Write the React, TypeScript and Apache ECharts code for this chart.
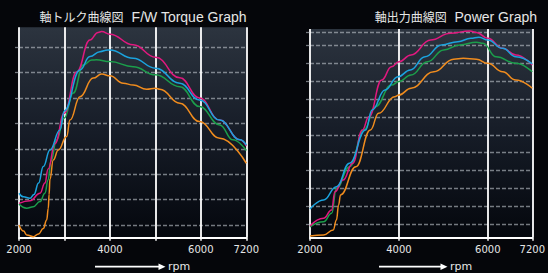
import React, { useEffect, useRef } from "react";
import * as echarts from "echarts";

// ---- axis ticks / labels ----
const LEFT_X_TICKS = [2000, 3000, 4000, 5000, 6000, 7200];
const LEFT_X_LABELS = [2000, 4000, 6000, 7200];
const RIGHT_X_TICKS = [2000, 4000, 6000, 7200];
const RIGHT_X_LABELS = [2000, 4000, 6000, 7200];
const LEFT_Y_LINES = [5, 15, 25, 35, 45, 55, 65, 75];
const LEFT_Y_MAX = 82.8;
const RIGHT_Y_LINES = [7.5, 17.5, 27.5, 37.5, 47.5, 57.5, 67.5, 77.5, 87.5, 97.5, 107.5, 115];
const RIGHT_Y_MAX = 116.6;

const LEFT_TITLE_JP = "軸トルク曲線図";
const LEFT_TITLE_EN = "F/W Torque Graph";
const RIGHT_TITLE_JP = "軸出力曲線図";
const RIGHT_TITLE_EN = "Power Graph";

// ---- torque curves [rpm, value] ----
const torqueMagenta = [
  [2000, 13.5], [2242, 14.5], [2462, 17.5], [2570, 21.5], [2640, 27], [2791, 37], [2996, 49],
  [3268, 65.2], [3560, 77.8], [3740, 80.8], [3818, 81.1], [4000, 80.1], [4512, 75.9], [5004, 71.0],
  [5538, 62.9], [5971, 55.0], [6499, 46.3], [7032, 38.5], [7200, 36.1],
];
const torqueCyan = [
  [2000, 17.5], [2095, 16.1], [2242, 15.5], [2330, 17], [2430, 21.5], [2534, 28], [2681, 34.5],
  [2901, 42.4], [2996, 49.9], [3341, 66.0], [3560, 71.3], [3780, 73.2], [3950, 73.9], [4000, 73.9],
  [4512, 70.6], [5004, 66.7], [5538, 60.8], [5971, 54.2], [6499, 46.3], [7032, 38.5], [7200, 36.5],
];
const torqueGreen = [
  [2000, 13.2], [2169, 11.6], [2314, 12.2], [2462, 14.2], [2570, 17.5], [2640, 22.7], [2700, 30],
  [2829, 38.5], [2996, 47.1], [3193, 56.9], [3413, 68.0], [3600, 69.9], [3700, 70.0], [4000, 69.3],
  [4512, 67.3], [5004, 64.1], [5538, 59.4], [5971, 51.6], [6499, 44.4], [6845, 38.5], [7200, 34.3],
];
const torqueOrange = [
  [2000, 5.0], [2100, 2.6], [2169, 1.1], [2314, 0.4], [2430, 1.5], [2534, 3.6], [2609, 7.0],
  [2644, 11.5], [2662, 17], [2680, 23], [2754, 30.6], [2864, 34.5], [3048, 39.8], [3121, 46.3],
  [3341, 55.5], [3633, 62.8], [3818, 64.4], [4000, 63.7], [4292, 60.8], [4512, 60.1], [4807, 58.4],
  [5004, 58.8], [5099, 58.4], [5538, 52.9], [5971, 45.7], [6499, 39.1], [7200, 29.3],
];

// ---- power curves [rpm, value] ----
const powerMagenta = [
  [2000, 6.5], [2305, 10.8], [2486, 15.5], [2561, 25.7], [2742, 32.2], [2960, 41.6], [3178, 60.2],
  [3324, 67.6], [3614, 88.1], [3832, 95.5], [4000, 98.3], [4272, 102.1], [4713, 110.4], [5155, 114.2],
  [5596, 115.5], [5744, 114.7], [6000, 111.4], [6400, 105.8], [6757, 102.1], [7200, 96.5],
];
const powerCyan = [
  [2000, 16.0], [2305, 21.1], [2595, 28.5], [2888, 41.6], [3250, 60.2], [3396, 71.3], [3686, 82.5],
  [3978, 89.9], [4256, 93.7], [4587, 101.1], [4956, 107.7], [5324, 109.5], [5618, 111.4],
  [5801, 112.0], [6000, 110.4], [6400, 105.8], [6757, 101.1], [7200, 97.1],
];
const powerGreen = [
  [2000, 6.1], [2305, 8.9], [2486, 13.6], [2595, 27.6], [2888, 39.7], [3215, 60.2], [3468, 73.2],
  [3832, 85.3], [4000, 87.2], [4272, 90.9], [4640, 98.3], [5007, 104.9], [5375, 107.7], [5744, 109.2],
  [5890, 108.6], [6224, 101.1], [6757, 97.4], [7200, 92.7],
];
const powerOrange = [
  [2000, 0.9], [2305, 1.5], [2523, 4.3], [2595, 9.9], [2643, 18.3], [2687, 23.9], [3032, 39.7],
  [3359, 60.2], [3542, 69.5], [3904, 78.8], [4000, 79.7], [4272, 83.5], [4786, 92.7], [5228, 99.7],
  [5448, 100.2], [5744, 99.7], [6000, 97.4], [6400, 92.7], [6757, 88.1], [7200, 83.5],
];

const C_MAGENTA = "#e0197f";
const C_CYAN = "#1ba3de";
const C_GREEN = "#1b9e4b";
const C_ORANGE = "#f08c1e";

// the rpm axis is compressed above 6000 (6000..7200 drawn in one 1000-rpm step)
const axisPos = (rpm: number) => (rpm <= 6000 ? rpm : 6000 + ((rpm - 6000) * 1000) / 1200);
const axisToRpm = (v: number) => (v <= 6000 ? v : 6000 + (v - 6000) * 1.2);

export default function App() {
  const ref = useRef<HTMLDivElement>(null);
  useEffect(() => {
    if (!ref.current) return;
    const chart = echarts.init(ref.current, undefined, { renderer: "svg" });
    const plotBg = {
      type: "linear", x: 0, y: 0, x2: 0, y2: 1,
      colorStops: [
        { offset: 0, color: "#2c343f" },
        { offset: 0.5, color: "#161c27" },
        { offset: 1, color: "#04070d" },
      ],
    };
    const labelFont = { color: "#e6e6e6", fontSize: 10, fontFamily: "DejaVu Sans" };
    const makeX = (gridIndex: number, ticks: number[], labels: number[]) => ({
      type: "value", gridIndex, min: 2000, max: 7000,
      axisLine: { show: true, onZero: false, lineStyle: { color: "#ffffff", width: 2 } },
      axisTick: { show: true, length: 3, customValues: ticks.map(axisPos), lineStyle: { color: "#ffffff", width: 1.5 } },
      axisLabel: {
        ...labelFont, margin: 7, customValues: ticks.map(axisPos),
        formatter: (v: number) => {
          const r = Math.round(axisToRpm(v));
          return labels.includes(r) ? String(r) : "";
        },
      },
      splitLine: { show: true, lineStyle: { color: "#ffffff", width: 1.8 } },
    });
    const makeY = (gridIndex: number, lines: number[], max: number) => ({
      type: "value", gridIndex, min: 0, max,
      axisLine: { show: false },
      axisTick: { show: true, length: 4, customValues: lines, lineStyle: { color: "rgba(190,196,204,0.6)", width: 1.3 } },
      axisLabel: { show: false, customValues: lines },
      splitLine: { show: true, lineStyle: { color: "rgba(190,196,204,0.6)", width: 1.3, type: [4, 2] } },
    });
    const mk = (data: number[][], color: string, idx: number) => ({
      type: "line", xAxisIndex: idx, yAxisIndex: idx,
      data: data.map(([r, v]) => [axisPos(r), v]),
      showSymbol: false, smooth: 0.45, smoothMonotone: "x",
      lineStyle: { color, width: 1.5 }, itemStyle: { color },
      silent: true, z: 3,
    });
    const titleRich = {
      jp: { fontFamily: "Noto Sans CJK JP", fontSize: 12, fill: "#e6e6e6" },
      en: { fontFamily: "Liberation Sans", fontSize: 14, fill: "#e6e6e6" },
    };
    const arrow = (x1: number, x2: number, y: number) => [
      { type: "line", shape: { x1, y1: y, x2, y2: y }, style: { stroke: "#ffffff", lineWidth: 1.8 } },
      { type: "polygon", shape: { points: [[x2 - 1, y - 3.3], [x2 + 6, y], [x2 - 1, y + 3.3]] }, style: { fill: "#ffffff" } },
      { type: "text", x: x2 + 8.5, y: y - 0.5, style: { text: "rpm", fill: "#e6e6e6", fontSize: 11, fontFamily: "DejaVu Sans", verticalAlign: "middle" } },
    ];
    chart.setOption({
      animation: false,
      backgroundColor: "#05060a",
      grid: [
        { left: 19, top: 27.3, width: 227.3, height: 210.4, show: true, borderWidth: 0, backgroundColor: plotBg },
        { left: 310, top: 29, width: 227.3, height: 208.7, show: true, borderWidth: 0, backgroundColor: plotBg },
      ],
      xAxis: [makeX(0, LEFT_X_TICKS, LEFT_X_LABELS), makeX(1, RIGHT_X_TICKS, RIGHT_X_LABELS)],
      yAxis: [makeY(0, LEFT_Y_LINES, LEFT_Y_MAX), makeY(1, RIGHT_Y_LINES, RIGHT_Y_MAX)],
      series: [
        mk(torqueOrange, C_ORANGE, 0), mk(torqueGreen, C_GREEN, 0), mk(torqueMagenta, C_MAGENTA, 0), mk(torqueCyan, C_CYAN, 0),
        mk(powerOrange, C_ORANGE, 1), mk(powerGreen, C_GREEN, 1), mk(powerMagenta, C_MAGENTA, 1), mk(powerCyan, C_CYAN, 1),
      ],
      graphic: [
        { type: "text", x: 246.5, y: 16.5, style: { text: `{jp|${LEFT_TITLE_JP}}{en|  ${LEFT_TITLE_EN}}`, rich: titleRich, align: "right", verticalAlign: "middle" } },
        { type: "text", x: 537, y: 16.5, style: { text: `{jp|${RIGHT_TITLE_JP}}{en|  ${RIGHT_TITLE_EN}}`, rich: titleRich, align: "right", verticalAlign: "middle" } },
        ...arrow(95, 159.5, 266.7),
        ...arrow(379, 441.5, 266.7),
      ],
    });
    return () => chart.dispose();
  }, []);
  return <div ref={ref} style={{ position: "fixed", left: 0, top: 0, width: 548, height: 273 }} />;
}
